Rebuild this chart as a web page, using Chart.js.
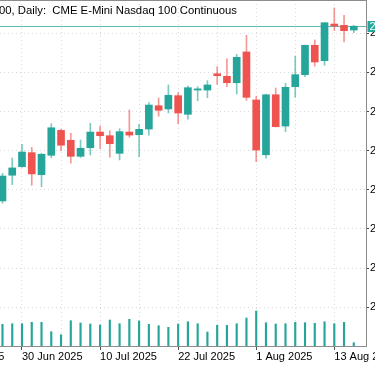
<!DOCTYPE html>
<html><head><meta charset="utf-8">
<script src="https://cdn.jsdelivr.net/npm/chart.js@4/dist/chart.umd.min.js"></script>
<style>html,body{margin:0;padding:0;background:#fff;overflow:hidden}#wrap{width:375px;height:366px;position:relative}</style>
</head><body><div id="wrap"><canvas id="c" width="375" height="366"></canvas></div>
<script>
// ---- data (daily bars) ----
const dates = ["2025-06-26","2025-06-27","2025-06-30","2025-07-01","2025-07-02","2025-07-03","2025-07-04","2025-07-07","2025-07-08","2025-07-09","2025-07-10","2025-07-11","2025-07-14","2025-07-15","2025-07-16","2025-07-17","2025-07-18","2025-07-21","2025-07-22","2025-07-23","2025-07-24","2025-07-25","2025-07-28","2025-07-29","2025-07-30","2025-07-31","2025-08-01","2025-08-04","2025-08-05","2025-08-06","2025-08-07","2025-08-08","2025-08-11","2025-08-12","2025-08-13","2025-08-14","2025-08-15"];
const openP  = [22615,22812,22878,22985,22816,22965,23156,23080,22957,23023,23143,23115,22980,23143,23123,23166,23345,23320,23422,23279,23465,23465,23590,23570,23521,23757,23389,22969,23429,23189,23491,23583,23808,23690,23971,23961,23925];
const highP  = [22827,22944,23049,23026,22979,23207,23164,23134,23082,23210,23189,23153,23169,23312,23202,23368,23404,23504,23445,23496,23491,23537,23644,23705,23739,23885,23419,23435,23481,23517,23726,23810,23849,23983,24094,24038,23961];
const lowP   = [22597,22740,22871,22735,22724,22946,23000,22904,22948,22967,23015,22950,22929,23103,22954,23120,23264,23289,23207,23241,23383,23406,23509,23491,23435,23386,22916,22942,23182,23146,23409,23567,23649,23655,23920,23833,23905];
const closeP = [22806,22868,22990,22822,22973,23176,23042,22957,23019,23143,23115,23054,23146,23120,23164,23350,23310,23425,23289,23483,23474,23504,23575,23521,23716,23409,23005,23429,23184,23486,23583,23808,23680,23981,23956,23920,23954];
const tickVolume = [434000,446000,446000,474000,474000,286000,226000,506000,460000,440000,420000,520000,446000,534000,500000,434000,406000,374000,440000,486000,446000,280000,414000,414000,446000,560000,700000,466000,440000,446000,474000,466000,454000,486000,446000,474000,66000];

// ---- tick labels ----
const priceTicks = [21800,22100,22400,22700,23000,23300,23600,23900];
const xTickLabels = ["18 Jun 2025","30 Jun 2025","10 Jul 2025","22 Jul 2025","1 Aug 2025","13 Aug 2025"];
const xTickBar    = [-6, 2, 10, 18, 26, 34];   // bar index each label belongs to
const xGridBars   = [-6,-2,2,6,10,14,18,22,26,30,34];
const titleSymbol = "NQ100";
const titleFrame  = "Daily";
const titleDesc   = "CME E-Mini Nasdaq 100 Continuous";

// ---- style ----
const UP = '#26a69a', DOWN = '#ef5350';
const UP_W = 'rgba(38,166,154,0.6)', DOWN_W = 'rgba(239,83,80,0.6)';
const GRID = '#d9d9d9', FRAME = '#8c8c8c';
const FONT = '"Liberation Sans", Arial, sans-serif';

const idx = dates.map((d,i)=>i);
const up = idx.map(i => closeP[i] >= openP[i]);
const lastPrice = closeP[closeP.length-1];
const labelAt = {}; xTickBar.forEach((b,k)=>labelAt[b]=xTickLabels[k]);

Chart.defaults.font.family = FONT;
Chart.defaults.font.size = 11;
Chart.defaults.color = '#000';

const overlay = {
  id:'overlay',
  beforeDatasetsDraw(chart){
    const {ctx, chartArea:a, scales:{y}} = chart;
    const py = Math.round(y.getPixelForValue(lastPrice)) + 0.5;
    ctx.save();
    ctx.strokeStyle = 'rgba(38,166,154,0.75)'; ctx.lineWidth = 1;
    ctx.beginPath(); ctx.moveTo(a.left, py); ctx.lineTo(a.right, py); ctx.stroke();
    ctx.restore();
  },
  afterDraw(chart){
    const {ctx, chartArea:a, scales:{y}} = chart;
    ctx.save();
    ctx.strokeStyle = FRAME; ctx.lineWidth = 1;
    ctx.beginPath(); ctx.moveTo(a.left, 0.5); ctx.lineTo(a.right+0.5, 0.5); ctx.stroke();
    ctx.font = '11.3px ' + FONT;
    ctx.fillStyle = '#000'; ctx.textBaseline = 'alphabetic'; ctx.textAlign = 'left';
    const pre = ctx.measureText(titleSymbol.slice(0,3)).width;
    ctx.fillText(titleSymbol + ', ' + titleFrame + ':  ' + titleDesc, a.left - pre - 1, 14);
    ctx.font = '11px ' + FONT;
    const py = Math.round(y.getPixelForValue(lastPrice));
    ctx.fillStyle = UP; ctx.fillRect(a.right + 1.5, py - 5, 20, 11);
    ctx.fillStyle = '#fff'; ctx.textBaseline = 'middle';
    ctx.fillText(lastPrice.toFixed(2), a.right + 3.5, py + 0.5);
    ctx.restore();
  }
};

new Chart(document.getElementById('c'), {
  type: 'bar',
  data: {
    datasets: [
      { label:'wick', data: idx.map(i=>({x:i, y:[lowP[i], highP[i]]})),
        backgroundColor: idx.map(i=> up[i]?UP_W:DOWN_W), barThickness: 1, grouped:false, order:3, yAxisID:'y' },
      { label:'body', data: idx.map(i=>({x:i, y:[openP[i], closeP[i]]})),
        backgroundColor: idx.map(i=> up[i]?UP:DOWN), barThickness: 7, grouped:false, order:1, yAxisID:'y', minBarLength:1 },
      { label:'volume', data: idx.map(i=>({x:i, y:tickVolume[i]})),
        backgroundColor: UP, barThickness: 1.5, grouped:false, order:2, yAxisID:'vol' }
    ]
  },
  options: {
    responsive:false, animation:false, devicePixelRatio:1,
    layout:{padding:0},
    plugins:{legend:{display:false}, tooltip:{enabled:false}},
    scales:{
      x:{ type:'linear', position:'bottom', min:-0.254, max:37.25, offset:false,
        grid:{ color:GRID, offset:false, tickLength:4, tickWidth:1,
               tickColor: c => (c.tick && labelAt[c.tick.value] !== undefined) ? '#555' : 'rgba(0,0,0,0)' },
        border:{ display:true, color:FRAME, width:1, dash:[1,3] },
        ticks:{ autoSkip:false, maxRotation:0, minRotation:0, align:'start', padding:0,
                callback: v => labelAt[v] !== undefined ? labelAt[v] : '' },
        afterBuildTicks: s => { s.ticks = xGridBars.map(v=>({value:v})); },
        afterFit: s => { s.height = 20; s.paddingLeft = 0; s.paddingRight = 0; s.paddingTop = 0; s.paddingBottom = 0; }
      },
      y:{ type:'linear', position:'right', min:21503.1, max:24155.2,
        grid:{ color:GRID, tickLength:3, tickColor:'#444' },
        border:{ display:true, color:FRAME, width:1, dash:[1,3] },
        ticks:{ padding:1, callback: v => Number(v).toFixed(2) },
        afterBuildTicks: s => { s.ticks = priceTicks.map(v=>({value:v})); },
        afterFit: s => { s.width = 9; s.paddingTop = 0; s.paddingBottom = 0; s.paddingLeft = 0; s.paddingRight = 0; }
      },
      vol:{ type:'linear', display:false, min:0, max:6920000 }
    }
  },
  plugins:[overlay]
});
</script></body></html>
